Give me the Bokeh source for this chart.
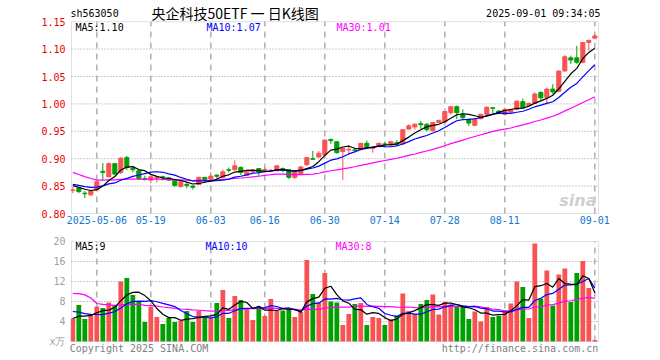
import pandas as pd
from bokeh.plotting import figure
from bokeh.models import Range1d, FixedTicker, Label, ColumnDataSource, NumeralTickFormatter, BoxAnnotation
from bokeh.layouts import column
from bokeh.embed import file_html
from bokeh.resources import INLINE

# ---------------- data ----------------
opens = [0.842, 0.846, 0.837, 0.834, 0.843, 0.877, 0.867, 0.891, 0.875, 0.902,
         0.882, 0.878, 0.864, 0.861, 0.864, 0.867, 0.865, 0.860, 0.849, 0.853,
         0.850, 0.853, 0.866, 0.863, 0.870, 0.866, 0.880, 0.880, 0.884, 0.870,
         0.876, 0.882, 0.879, 0.878, 0.878, 0.882, 0.880, 0.866, 0.871, 0.889,
         0.900, 0.903, 0.907, 0.935, 0.931, 0.913, 0.916, 0.916, 0.917, 0.928,
         0.919, 0.922, 0.927, 0.925, 0.929, 0.927, 0.954, 0.958, 0.964, 0.963,
         0.951, 0.966, 0.967, 0.984, 0.995, 0.981, 0.972, 0.961, 0.973, 0.981,
         0.993, 0.987, 0.981, 0.985, 0.990, 1.004, 0.997, 1.001, 1.021, 1.012,
         1.027, 1.023, 1.060, 1.084, 1.084, 1.076, 1.112, 1.120]
highs = [0.848, 0.847, 0.841, 0.842, 0.859, 0.892, 0.893, 0.892, 0.903, 0.905,
         0.887, 0.879, 0.869, 0.868, 0.867, 0.869, 0.866, 0.861, 0.859, 0.857,
         0.852, 0.867, 0.866, 0.875, 0.872, 0.880, 0.884, 0.897, 0.886, 0.877,
         0.881, 0.883, 0.884, 0.881, 0.888, 0.884, 0.881, 0.878, 0.887, 0.903,
         0.914, 0.914, 0.935, 0.937, 0.932, 0.920, 0.925, 0.919, 0.929, 0.933,
         0.923, 0.929, 0.930, 0.932, 0.934, 0.954, 0.963, 0.964, 0.969, 0.964,
         0.967, 0.971, 0.987, 0.996, 0.997, 0.990, 0.973, 0.974, 0.982, 0.995,
         0.993, 0.988, 0.993, 0.991, 1.006, 1.010, 1.002, 1.021, 1.023, 1.030,
         1.036, 1.061, 1.089, 1.088, 1.106, 1.113, 1.117, 1.127]
lows = [0.837, 0.837, 0.828, 0.832, 0.842, 0.860, 0.866, 0.870, 0.872, 0.879,
        0.875, 0.861, 0.860, 0.855, 0.857, 0.860, 0.859, 0.849, 0.848, 0.846,
        0.844, 0.852, 0.857, 0.861, 0.863, 0.864, 0.875, 0.878, 0.870, 0.869,
        0.872, 0.869, 0.875, 0.876, 0.877, 0.875, 0.863, 0.863, 0.870, 0.887,
        0.898, 0.902, 0.906, 0.927, 0.909, 0.861, 0.908, 0.913, 0.915, 0.918,
        0.911, 0.921, 0.922, 0.924, 0.924, 0.926, 0.953, 0.953, 0.955, 0.950,
        0.950, 0.965, 0.966, 0.980, 0.972, 0.972, 0.960, 0.959, 0.972, 0.980,
        0.983, 0.982, 0.979, 0.984, 0.989, 0.992, 0.995, 1.000, 1.006, 0.999,
        1.018, 1.022, 1.059, 1.073, 1.073, 1.074, 1.097, 1.118]
closes = [0.843, 0.840, 0.836, 0.841, 0.858, 0.875, 0.891, 0.872, 0.901, 0.884,
          0.880, 0.864, 0.862, 0.867, 0.866, 0.865, 0.861, 0.851, 0.858, 0.851,
          0.848, 0.866, 0.862, 0.868, 0.868, 0.876, 0.879, 0.887, 0.875, 0.876,
          0.878, 0.875, 0.880, 0.879, 0.887, 0.880, 0.866, 0.877, 0.885, 0.902,
          0.899, 0.910, 0.934, 0.933, 0.911, 0.919, 0.917, 0.915, 0.928, 0.922,
          0.921, 0.928, 0.926, 0.931, 0.927, 0.953, 0.960, 0.963, 0.962, 0.953,
          0.966, 0.970, 0.986, 0.995, 0.984, 0.975, 0.965, 0.973, 0.981, 0.994,
          0.992, 0.983, 0.990, 0.990, 1.005, 0.993, 1.001, 1.018, 1.011, 1.027,
          1.022, 1.060, 1.086, 1.080, 1.076, 1.112, 1.116, 1.124]
volumes = [4.6, 7.3, 4.5, 5.4, 7.0, 6.7, 7.8, 7.3, 12.0, 12.7,
           9.3, 8.0, 3.9, 6.9, 4.9, 3.5, 4.7, 3.9, 4.2, 6.1,
           3.9, 6.1, 4.9, 4.6, 7.7, 10.3, 4.7, 9.1, 8.3, 6.6,
           4.3, 7.0, 5.1, 8.5, 6.1, 6.2, 6.3, 4.9, 5.9, 16.3,
           9.5, 7.8, 13.7, 8.0, 7.8, 3.3, 5.5, 7.5, 7.7, 3.3,
           4.9, 4.7, 3.3, 4.5, 5.2, 9.6, 6.1, 5.5, 7.5, 8.3,
           9.4, 5.4, 7.9, 7.4, 6.9, 7.0, 4.5, 6.0, 4.0, 6.9,
           4.9, 5.2, 6.2, 7.6, 12.0, 10.9, 4.7, 19.6, 8.6, 14.2,
           7.2, 13.4, 14.6, 7.9, 13.7, 16.1, 10.7, 0.3]
# sessions before the visible window (estimated, only used by the moving averages)
prior_closes = [0.955, 0.950, 0.948, 0.943, 0.880, 0.876, 0.872, 0.868, 0.874, 0.878,
                0.871, 0.866, 0.862, 0.868, 0.873, 0.870, 0.866, 0.862, 0.865, 0.873,
                0.858, 0.856, 0.855, 0.853, 0.853, 0.856, 0.854, 0.852, 0.850]
prior_volumes = [8.0, 12.0, 24.0, 40.2, 12.0, 11.0, 10.5, 9.0, 8.5, 9.5,
                 8.0, 10.0, 9.0, 8.0, 8.5, 9.0, 8.0, 7.8, 8.0, 7.0,
                 8.5, 7.5, 7.0, 7.2, 6.8, 5.0, 4.5, 4.6, 4.3]

date_tick_index = [4, 13, 23, 32, 42, 52, 62, 72, 87]
date_tick_labels = ["2025-05-06", "05-19", "06-03", "06-16", "06-30",
                    "07-14", "07-28", "08-11", "09-01"]
price_ticks = [0.80, 0.85, 0.90, 0.95, 1.00, 1.05, 1.10, 1.15]
price_grid = [0.85, 0.90, 0.95, 1.00, 1.05, 1.10]
vol_ticks = [0, 4, 8, 12, 16, 20]
vol_grid = [4, 8, 12, 16]

code = "sh563050"
title_text = "央企科技50ETF 一 日K线图"
stamp = "2025-09-01 09:34:05"
footer_left = "Copyright 2025 SINA.COM"
footer_right = "http://finance.sina.com.cn"

# ---------------- styling ----------------
RED = "#f85252"
GREEN = "#00a000"
MONO = "DejaVu Sans Mono"
GRIDC = "#b0b0b0"
DOTC = "#999999"
BOXC = "#999999"
W = 610

# panel box limits (index units / value units) and the drawing ranges around them
BOX_X = (-0.22, 87.62)
BOX_P = (0.80, 1.15)
BOX_V = (0, 20)
X_RANGE = (-0.387, 88.947)          # frame 70..606 px, 6 px per session
P_RANGE = (0.79818, 1.18869)        # frame 0..214 px, 548 px per unit
V_RANGE = (-0.2, 20.2)              # frame 240..342 px, 5 px per unit

def moving_avg(prior, vals, k):
    s = pd.Series(list(prior) + list(vals), dtype=float)
    return s.rolling(k).mean().iloc[len(prior):].tolist()

n = len(closes)
xs = list(range(n))
colors = [RED if c >= o else GREEN for o, c in zip(opens, closes)]
src = ColumnDataSource(dict(
    x=xs, h=highs, l=lows,
    top=[max(o, c) for o, c in zip(opens, closes)],
    bot=[min(o, c) for o, c in zip(opens, closes)],
    color=colors, vol=volumes,
    ma5=moving_avg(prior_closes, closes, 5),
    ma10=moving_avg(prior_closes, closes, 10),
    ma30=moving_avg(prior_closes, closes, 30),
    vma5=moving_avg(prior_volumes, volumes, 5),
    vma10=moving_avg(prior_volumes, volumes, 10),
    vma30=moving_avg(prior_volumes, volumes, 30),
))

xr = Range1d(*X_RANGE)

def style(fig, ybox):
    fig.background_fill_color = "white"
    fig.border_fill_color = "white"
    fig.outline_line_color = None
    fig.xgrid.visible = False
    fig.ygrid.visible = False
    for ax in fig.axis:
        ax.axis_line_color = None
        ax.major_tick_line_color = None
        ax.minor_tick_line_color = None
        ax.major_tick_out = 0
        ax.major_tick_in = 0
        ax.minor_tick_out = 0
        ax.minor_tick_in = 0
        ax.major_label_text_font = MONO
        ax.major_label_text_font_size = "10px"
    fig.add_layout(BoxAnnotation(left=BOX_X[0], right=BOX_X[1], bottom=ybox[0], top=ybox[1],
                                 fill_alpha=0, line_color=BOXC, line_width=1))

def add_grid(fig, ybox, hvals):
    fig.segment(x0=date_tick_index, y0=[ybox[0]] * len(date_tick_index),
                x1=date_tick_index, y1=[ybox[1]] * len(date_tick_index),
                line_color=GRIDC, line_dash="6 5", line_width=1.5)
    fig.segment(x0=[BOX_X[0]] * len(hvals), y0=hvals, x1=[BOX_X[1]] * len(hvals), y1=hvals,
                line_color=DOTC, line_dash="1 2", line_width=1)

def add_label(fig, x, y, text, color="black", size="10px", font=MONO, align="left",
              style_="normal"):
    fig.add_layout(Label(x=x, y=y, x_units="screen", y_units="screen", text=text,
                         text_color=color, text_font_size=size, text_font=font,
                         text_align=align, text_baseline="middle",
                         text_font_style=style_))

# ---------------- price panel (frame also holds the header row) ----------------
p = figure(width=W, height=231, x_range=xr, y_range=Range1d(*P_RANGE),
           output_backend="svg", toolbar_location=None,
           min_border_left=70, min_border_right=4, min_border_top=0, min_border_bottom=17)
style(p, BOX_P)
p.yaxis.ticker = FixedTicker(ticks=price_ticks)
p.yaxis.formatter = NumeralTickFormatter(format="0.00")
p.yaxis.major_label_text_color = "#ee0000"
p.yaxis.major_label_standoff = 5
p.xaxis.ticker = FixedTicker(ticks=date_tick_index)
p.xaxis.major_label_overrides = {i: t for i, t in zip(date_tick_index, date_tick_labels)}
p.xaxis.major_label_text_color = "#1178d0"
p.xaxis.major_label_standoff = 1
add_grid(p, BOX_P, price_grid)

p.segment(x0="x", y0="h", x1="x", y1="l", color="color", line_width=1, source=src)
p.vbar(x="x", top="top", bottom="bot", width=0.68, fill_color="color",
       line_color="color", line_width=1, source=src)
p.line("x", "ma30", color="#ff00ff", line_width=1.2, source=src)
p.line("x", "ma10", color="#0000ff", line_width=1.2, source=src)
p.line("x", "ma5", color="black", line_width=1.2, source=src)

add_label(p, 0, 201, code)
add_label(p, 81, 201.5, title_text, size="14px", font="Noto Sans CJK SC")
add_label(p, 530, 201, stamp, align="right")
add_label(p, 5, 187, "MA5:%.2f" % src.data["ma5"][-1], color="black")
add_label(p, 136, 187, "MA10:%.2f" % src.data["ma10"][-1], color="#0000ff")
add_label(p, 266, 187, "MA30:%.2f" % src.data["ma30"][-1], color="#ff00ff")
add_label(p, 526, 14, "sina", color="#cfcfcf", size="16px", font="DejaVu Sans",
          align="right", style_="bold italic")

# ---------------- volume panel ----------------
v = figure(width=W, height=125, x_range=xr, y_range=Range1d(*V_RANGE),
           output_backend="svg", toolbar_location=None,
           min_border_left=70, min_border_right=4, min_border_top=9, min_border_bottom=14)
style(v, BOX_V)
v.yaxis.ticker = FixedTicker(ticks=vol_ticks)
v.yaxis.major_label_overrides = {0: "x万"}
v.yaxis.major_label_text_color = "#a0a0a0"
v.yaxis.major_label_standoff = 5
# footer texts carried by the lower axis of the volume panel
footer_pos = [11.03, 74.53]
v.xaxis.ticker = FixedTicker(ticks=footer_pos)
v.xaxis.major_label_overrides = {footer_pos[0]: footer_left, footer_pos[1]: footer_right}
v.xaxis.major_label_text_color = "#808080"
v.xaxis.major_label_standoff = 0
add_grid(v, BOX_V, vol_grid)

v.vbar(x="x", top="vol", bottom=0, width=0.8, fill_color="color", line_color=None, source=src)
v.line("x", "vma30", color="#ff00ff", line_width=1.2, source=src)
v.line("x", "vma10", color="#0000ff", line_width=1.2, source=src)
v.line("x", "vma5", color="black", line_width=1.2, source=src)

add_label(v, 5, 96, "MA5:%d" % int(src.data["vma5"][-1]), color="black")
add_label(v, 135, 96, "MA10:%d" % int(src.data["vma10"][-1]), color="#0000ff")
add_label(v, 265, 96, "MA30:%d" % int(src.data["vma30"][-1]), color="#ff00ff")

layout = column(p, v, spacing=0)
open("out.html", "w").write(file_html(layout, INLINE))
